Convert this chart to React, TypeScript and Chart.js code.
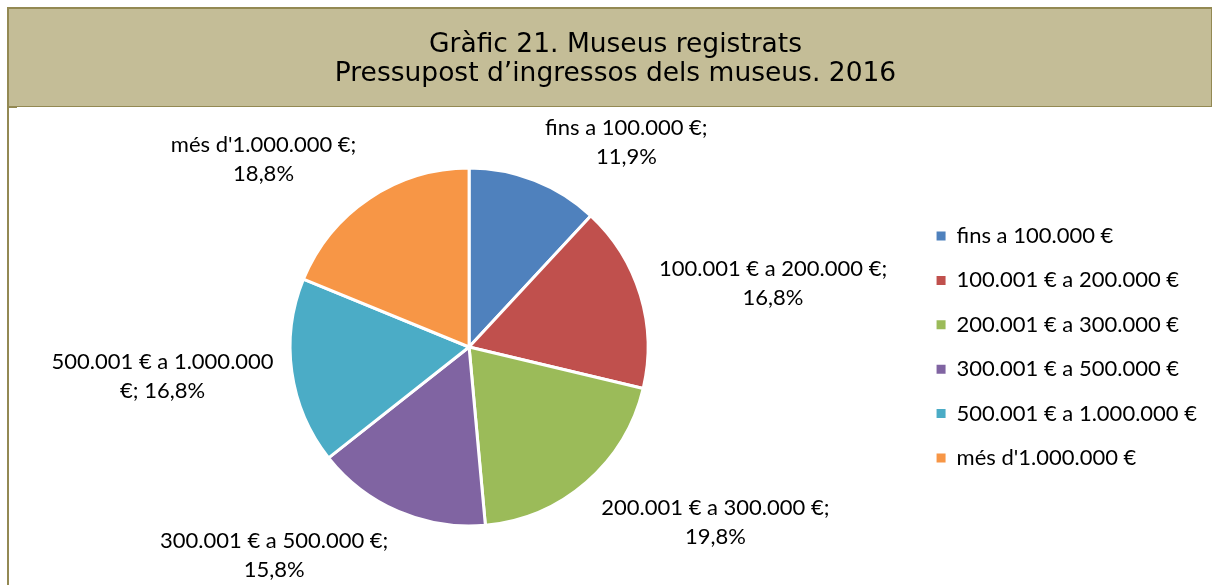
import React, { useEffect, useRef } from "react";
import { Chart, registerables } from "chart.js";

Chart.register(...registerables);

const titleLines = ["Gràfic 21. Museus registrats", "Pressupost d’ingressos dels museus. 2016"];
const categories = [
  "fins a 100.000 €",
  "100.001 € a 200.000 €",
  "200.001 € a 300.000 €",
  "300.001 € a 500.000 €",
  "500.001 € a 1.000.000 €",
  "més d'1.000.000 €",
];
const shares = [11.9, 16.8, 19.8, 15.8, 16.8, 18.8];
const sliceColors = ["#4F81BD", "#C0504D", "#9BBB59", "#8064A2", "#4BACC6", "#F79646"];
// label placement relative to each slice: angle shift from mid-angle (deg), distance in radii
const labelAngleShift = [16.1, 5.0, -13.6, 19.9, 2.6, -13.8];
const labelDistance = [1.442, 1.735, 1.69, 1.592, 1.72, 1.553];

const LABEL_FONT = "Lato";
const LABEL_SIZE = 22;
const LABEL_LINE = 29;
const LABEL_WRAP = 232;

const fmtPct = (v: number) => v.toFixed(1).replace(".", ",") + "%";

const framePlugin = {
  id: "frame",
  beforeDraw(chart: any) {
    const { ctx, width: W, height: H } = chart;
    ctx.save();
    ctx.fillStyle = "#ffffff";
    ctx.fillRect(0, 0, W, H);
    ctx.fillStyle = "#C4BD97";
    ctx.fillRect(9, 9, W - 10, 97);
    ctx.fillStyle = "#938953";
    ctx.fillRect(7, 7, W - 7, 2);
    ctx.fillRect(7, 7, 2, H - 7);
    ctx.fillRect(9, 106, W - 9, 1);
    ctx.fillRect(W - 1, 7, 1, 100);
    ctx.fillRect(9, 107, 8, 1);
    ctx.restore();
  },
};

const labelPlugin = {
  id: "sliceLabels",
  afterDatasetsDraw(chart: any) {
    const ctx = chart.ctx;
    const meta = chart.getDatasetMeta(0);
    ctx.save();
    ctx.font = `${LABEL_SIZE}px ${LABEL_FONT}`;
    ctx.fillStyle = "#000000";
    ctx.textAlign = "center";
    ctx.textBaseline = "middle";
    meta.data.forEach((arc: any, i: number) => {
      const { x, y, startAngle, endAngle, outerRadius } = arc.getProps(
        ["x", "y", "startAngle", "endAngle", "outerRadius"],
        true
      );
      const a = (startAngle + endAngle) / 2 + (labelAngleShift[i] * Math.PI) / 180;
      const d = outerRadius * labelDistance[i];
      const cx = x + Math.cos(a) * d;
      const cy = y + Math.sin(a) * d;
      const words = (categories[i] + "; " + fmtPct(shares[i])).split(" ");
      const lines: string[] = [];
      let cur = "";
      const firstEnd = categories[i].split(" ").length;
      words.forEach((w, wi) => {
        const test = cur ? cur + " " + w : w;
        const forceBreak = wi === firstEnd && lines.length === 0;
        if (cur && (ctx.measureText(test).width > LABEL_WRAP || forceBreak)) {
          lines.push(cur);
          cur = w;
        } else {
          cur = test;
        }
      });
      if (cur) lines.push(cur);
      lines.forEach((ln, li) => {
        ctx.fillText(ln, cx, cy + (li - (lines.length - 1) / 2) * LABEL_LINE);
      });
    });
    ctx.restore();
  },
};

export default function App() {
  const ref = useRef<HTMLCanvasElement | null>(null);
  useEffect(() => {
    if (!ref.current) return;
    const chart = new Chart(ref.current, {
      type: "pie",
      data: {
        labels: categories,
        datasets: [
          {
            data: shares,
            backgroundColor: sliceColors,
            borderColor: "#ffffff",
            borderWidth: 3,
            radius: 179,
          } as any,
        ],
      },
      options: {
        responsive: false,
        animation: false,
        devicePixelRatio: 1,
        events: [],
        layout: { padding: { top: 8, left: 24, right: 5, bottom: 0 } },
        plugins: {
          title: {
            display: true,
            text: titleLines,
            color: "#000000",
            font: { family: "DejaVu Sans", size: 26.5, weight: "normal", lineHeight: 1.1 },
            padding: { top: 22.4, bottom: 20.3 },
          },
          legend: {
            display: true,
            position: "right",
            align: "center",
            fullSize: false,
            labels: {
              color: "#000000",
              font: { family: LABEL_FONT, size: LABEL_SIZE },
              boxWidth: 9,
              boxHeight: 9,
              padding: 22.4,
              generateLabels: (ch: any) => {
                const items = Chart.overrides.pie.plugins.legend.labels.generateLabels(ch);
                return items.map((it: any) => ({ ...it, lineWidth: 0, strokeStyle: it.fillStyle }));
              },
            },
          },
          tooltip: { enabled: false },
        },
      } as any,
      plugins: [framePlugin, labelPlugin],
    });
    return () => chart.destroy();
  }, []);
  return (
    <div style={{ position: "absolute", left: 0, top: 0, width: 1212, height: 585 }}>
      <canvas ref={ref} width={1212} height={585} style={{ width: 1212, height: 585, display: "block" }} />
    </div>
  );
}
